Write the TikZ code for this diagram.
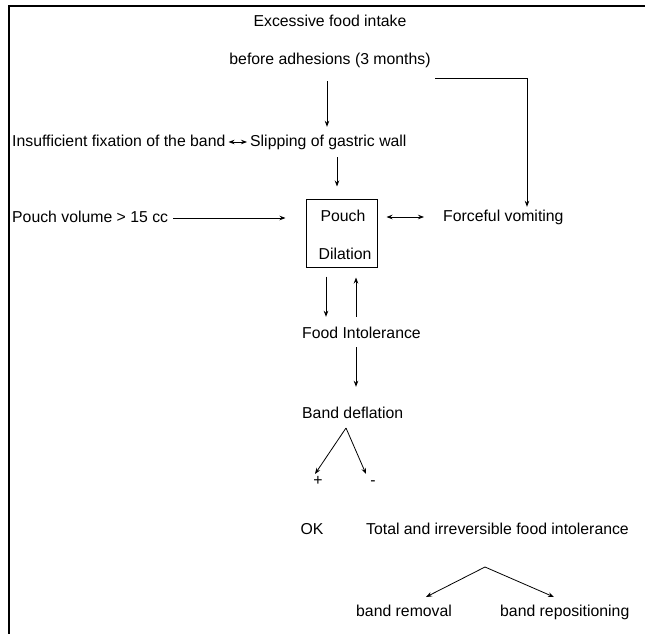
\documentclass[tikz,border=0pt]{standalone}
\usepackage{fontspec}
\setmainfont{Liberation Sans}
\usetikzlibrary{arrows.meta}
\begin{document}
\begin{tikzpicture}[x=1pt,y=-1pt,
  lbl/.style={inner sep=0pt, text height=11.5pt, text depth=3.5pt, font=\fontsize{15.8}{18}\selectfont},
  arr/.style={line width=0.8pt, -{Stealth[length=6pt,width=4.5pt]}},
  darr/.style={line width=0.8pt, {Stealth[length=6pt,width=4.5pt]}-{Stealth[length=6pt,width=4.5pt]}},
  plain/.style={line width=0.8pt},
  frame/.style={line width=1.4pt},
  boxst/.style={draw, line width=1pt, minimum width=71pt, minimum height=68pt, inner sep=0pt}
  ]
\useasboundingbox (0,0) rectangle (645,634);
% frame (top and left edges only)
\coordinate (fr1) at (645,6);
\coordinate (fr2) at (9,6);
\coordinate (fr3) at (9,634);
\draw[frame] (fr1) -- (fr2) -- (fr3);

% nodes
\node[lbl] (ex) at (330,23) {Excessive food intake};
\node[lbl] (bef) at (330,61) {before adhesions (3 months)};
\node[lbl, anchor=west] (ins) at (12,142) {Insufficient fixation of the band};
\node[lbl, anchor=west] (slip) at (250,142) {Slipping of gastric wall};
\node[lbl, anchor=west] (pv) at (12,218) {Pouch volume > 15 cc};
\node[boxst] (box) at (341.5,233) {};
\node[lbl] (pouch) at (343,217) {Pouch};
\node[lbl] (dil) at (345,255) {Dilation};
\node[lbl, anchor=west] (fv) at (443,217) {Forceful vomiting};
\node[lbl, anchor=west] (fi) at (302,334) {Food Intolerance};
\node[lbl, anchor=west] (bd) at (302,414) {Band deflation};
\node[lbl] (plus) at (318,481) {+};
\node[lbl] (minus) at (373,481) {-};
\node[lbl] (ok) at (312,530) {OK};
\node[lbl, anchor=west] (tot) at (366,530) {Total and irreversible food intolerance};
\node[lbl, anchor=west] (br) at (356,612) {band removal};
\node[lbl, anchor=west] (brp) at (500,612) {band repositioning};

% helper coordinates
\coordinate (x1) at (327,0);
\coordinate (x2) at (527,0);
\coordinate (x3) at (337,0);
\coordinate (x4) at (326,0);
\coordinate (x5) at (356,0);
\coordinate (v0) at (435,78);
\coordinate (ap1) at (346,428);
\coordinate (t1) at (315,474);
\coordinate (t2) at (366,474);
\coordinate (ap2) at (485,567);
\coordinate (t3) at (426,597);
\coordinate (t4) at (554,597);

% connectors
\draw[arr, shorten <=12.5pt, shorten >=7.5pt] (bef.south -| x1) -- (slip.north -| x1);
\draw[arr, shorten >=2.5pt] (v0) -| (fv.north -| x2);
\draw[darr, shorten <=3pt, shorten >=3pt] (ins.east) -- (slip.west);
\draw[arr, shorten <=7.5pt, shorten >=12pt] (slip.south -| x3) -- (box.north -| x3);
\draw[arr, shorten <=5pt, shorten >=20pt] (pv.east) -- (pv.east -| box.west);
\draw[darr, shorten <=9pt, shorten >=19pt] (fv.west -| box.east) -- (fv.west);
\draw[arr, shorten <=9pt, shorten >=9.5pt] (box.south -| x4) -- (fi.north -| x4);
\draw[arr, shorten <=9.5pt, shorten >=10pt] (fi.north -| x5) -- (box.south -| x5);
\draw[arr, shorten <=5.5pt, shorten >=19.5pt] (fi.south -| x5) -- (bd.north -| x5);
\draw[arr] (ap1) -- (t1);
\draw[arr] (ap1) -- (t2);
\draw[arr] (ap2) -- (t3);
\draw[arr] (ap2) -- (t4);
\end{tikzpicture}
\end{document}
